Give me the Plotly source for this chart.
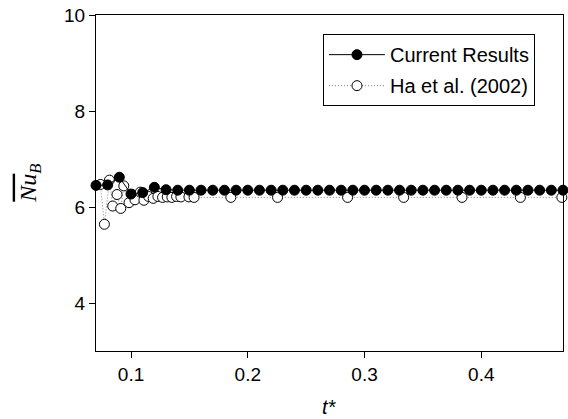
import plotly.graph_objects as go

# Current simulation: average Nusselt number on the bottom wall vs dimensionless time
t_current = [0.07, 0.08, 0.09, 0.10, 0.11, 0.12, 0.13, 0.14, 0.15, 0.16, 0.17, 0.18,
             0.19, 0.20, 0.21, 0.22, 0.23, 0.24, 0.25, 0.26, 0.27, 0.28, 0.29, 0.30,
             0.31, 0.32, 0.33, 0.34, 0.35, 0.36, 0.37, 0.38, 0.39, 0.40, 0.41, 0.42,
             0.43, 0.44, 0.45, 0.46, 0.47]
nu_current = [6.45, 6.46, 6.62, 6.27, 6.30, 6.41, 6.36, 6.35, 6.35, 6.35, 6.35, 6.35,
              6.35, 6.35, 6.35, 6.35, 6.35, 6.35, 6.35, 6.35, 6.35, 6.35, 6.35, 6.35,
              6.35, 6.35, 6.35, 6.35, 6.35, 6.35, 6.35, 6.35, 6.35, 6.35, 6.35, 6.35,
              6.35, 6.35, 6.35, 6.35, 6.35]

# Reference data, Ha et al. (2002)
t_ha = [0.0738, 0.0772, 0.0815, 0.0843, 0.0880, 0.0912, 0.0938, 0.0983, 0.1010,
        0.1034, 0.1080, 0.1110, 0.1150, 0.1190, 0.1230, 0.1270, 0.1310, 0.1350,
        0.1390, 0.1427, 0.1496, 0.1540, 0.1855, 0.2255, 0.2855, 0.3335, 0.3835,
        0.4335, 0.4690]
nu_ha = [6.47, 5.64, 6.56, 6.02, 6.26, 5.97, 6.44, 6.09, 6.26,
         6.15, 6.31, 6.14, 6.22, 6.18, 6.22, 6.20, 6.21, 6.20,
         6.22, 6.21, 6.21, 6.20, 6.20, 6.20, 6.20, 6.20, 6.20,
         6.20, 6.20]

x_ticks = [0.1, 0.2, 0.3, 0.4]
y_ticks = [4, 6, 8, 10]

FONT = "Arial, Liberation Sans, sans-serif"

fig = go.Figure()

fig.add_trace(go.Scatter(
    x=t_ha, y=nu_ha, mode="lines+markers", name="Ha et al. (2002)",
    line=dict(color="#808080", width=1, dash="1px,2px"),
    marker=dict(symbol="circle", size=10, color="white",
                line=dict(color="black", width=1)),
    cliponaxis=False, legendrank=2, legendgroup="b",
))

fig.add_trace(go.Scatter(
    x=t_current, y=nu_current, mode="lines+markers", name="Current Results",
    line=dict(color="black", width=1),
    marker=dict(symbol="circle", size=10, color="black",
                line=dict(color="black", width=1)),
    cliponaxis=False, legendrank=1, legendgroup="a",
))

axis_common = dict(
    showline=True, linecolor="black", linewidth=1, mirror=True,
    ticks="outside", ticklen=6, tickwidth=1, tickcolor="black",
    showgrid=False, zeroline=False,
    tickfont=dict(family=FONT, size=19, color="black"),
)

fig.update_xaxes(range=[0.07, 0.47], tickvals=x_ticks,
                 ticktext=[f"{v:.1f}" for v in x_ticks], **axis_common)
fig.update_yaxes(range=[3, 10], tickvals=y_ticks,
                 ticktext=[str(v) for v in y_ticks], **axis_common)

fig.update_layout(
    width=568, height=419,
    margin=dict(l=96, r=5, t=15, b=68),
    paper_bgcolor="white", plot_bgcolor="white",
    showlegend=True,
    legend=dict(
        x=0.94, y=0.943, xanchor="right", yanchor="top",
        bgcolor="white", bordercolor="black", borderwidth=1,
        font=dict(family=FONT, size=20, color="black"),
        tracegroupgap=2, itemwidth=56,
    ),
    annotations=[
        dict(text="<i>t*</i>", x=0.5, y=-0.168, xref="paper", yref="paper",
             showarrow=False, xanchor="center", yanchor="middle",
             font=dict(family=FONT, size=20, color="black")),
        dict(text='<span style="text-decoration:overline"><i>Nu</i></span><sub><i>B</i></sub>',
             x=-0.142, y=0.5, xref="paper", yref="paper", textangle=-90,
             showarrow=False, xanchor="center", yanchor="middle",
             font=dict(family="Times New Roman, Liberation Serif, serif", size=24, color="black")),
    ],
)

fig.write_html("out.html")
